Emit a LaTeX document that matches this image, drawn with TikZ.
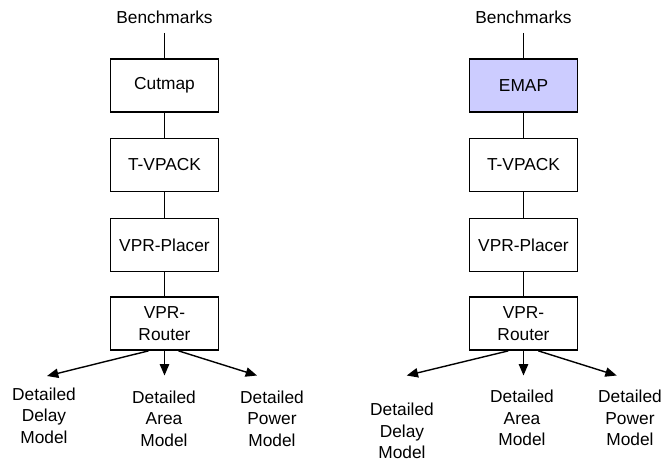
\documentclass[tikz,border=0pt]{standalone}
\usepackage{fontspec}
\setmainfont{Liberation Sans}
\usetikzlibrary{arrows.meta}
\definecolor{emapfill}{RGB}{204,204,255}
\begin{document}
\begin{tikzpicture}[x=0.75pt,y=-0.75pt,
  txt/.style={font=\fontsize{13}{16.25}\selectfont},
  box/.style={txt, draw, line width=1.05pt, minimum width=81pt, minimum height=40pt, inner sep=0pt, align=center},
  lbl/.style={txt, align=center, inner sep=0pt},
  link/.style={line width=1.05pt},
  arr/.style={line width=1.05pt, -{Triangle[length=8.5pt,width=7pt]}}]
\useasboundingbox (0,0) rectangle (665,462);

% ---------- left flow ----------
\node[lbl, inner ysep=6.75pt] (b1) at (164.5,17.2) {Benchmarks};
\node[box] (c1) at (164.5,85.5) {Cutmap};
\node[box] (t1) at (164.5,165) {T-VPACK};
\node[box] (p1) at (164.5,245) {VPR-Placer};
\node[box] (r1) at (164.5,323.5) {VPR-\\Router};
\draw[link] (b1) -- (c1);
\draw[link] (c1) -- (t1);
\draw[link] (t1) -- (p1);
\draw[link] (p1) -- (r1);

\node[lbl] (dl1) at (44,415.5) {Detailed\\Delay\\Model};
\node[lbl] (al1) at (164,418.5) {Detailed\\Area\\Model};
\node[lbl] (pl1) at (272,418.5) {Detailed\\Power\\Model};
\coordinate (tl1) at (47,376);
\coordinate (tm1) at (164.5,375.5);
\coordinate (tr1) at (257,375.5);
\draw[arr] ([xshift=-12pt]r1.south) -- (tl1);
\draw[arr] (r1) -- (tm1);
\draw[arr] ([xshift=10.5pt]r1.south) -- (tr1);

% ---------- right flow ----------
\node[lbl, inner ysep=6.75pt] (b2) at (523.5,17.2) {Benchmarks};
\node[box, fill=emapfill] (c2) at (523.5,85.5) {EMAP};
\node[box] (t2) at (523.5,165) {T-VPACK};
\node[box] (p2) at (523.5,245) {VPR-Placer};
\node[box] (r2) at (523.5,323.5) {VPR-\\Router};
\draw[link] (b2) -- (c2);
\draw[link] (c2) -- (t2);
\draw[link] (t2) -- (p2);
\draw[link] (p2) -- (r2);

\node[lbl] (dl2) at (402,431) {Detailed\\Delay\\Model};
\node[lbl] (al2) at (522,418) {Detailed\\Area\\Model};
\node[lbl] (pl2) at (630,418) {Detailed\\Power\\Model};
\coordinate (tl2) at (406.7,375.5);
\coordinate (tm2) at (523.5,375.5);
\coordinate (tr2) at (616.7,375.5);
\draw[arr] ([xshift=-11.4pt]r2.south) -- (tl2);
\draw[arr] (r2) -- (tm2);
\draw[arr] ([xshift=11.1pt]r2.south) -- (tr2);
\end{tikzpicture}
\end{document}
